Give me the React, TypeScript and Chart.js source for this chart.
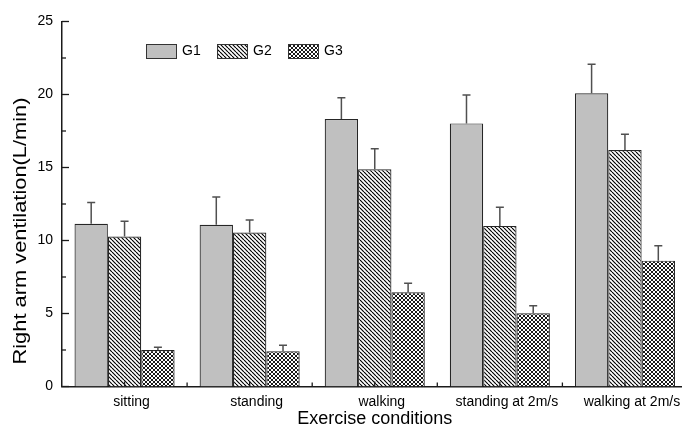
import React, { useEffect, useRef } from "react";
import { Chart, registerables } from "chart.js";

Chart.register(...registerables);

// Exercise conditions on the category axis
const conditions = ["sitting", "standing", "walking", "standing at 2m/s", "walking at 2m/s"];
const groupNames = ["G1", "G2", "G3"];

// Mean right arm ventilation (L/min) per group
const g1Values = [11.15, 11.08, 18.32, 18.02, 20.08];
const g2Values = [10.27, 10.55, 14.88, 11.0, 16.2];
const g3Values = [2.5, 2.41, 6.45, 5.01, 8.62];

// Upper error (SD) per group
const g1Errors = [1.45, 1.9, 1.45, 1.95, 2.0];
const g2Errors = [1.05, 0.85, 1.4, 1.28, 1.07];
const g3Errors = [0.18, 0.41, 0.62, 0.52, 1.02];

const yTicks = [0, 5, 10, 15, 20, 25];

const FONT = "'Liberation Sans', Arial, sans-serif";

function makeDiagonalPattern(): CanvasPattern | string {
  const c = document.createElement("canvas");
  c.width = 4;
  c.height = 4;
  const ctx = c.getContext("2d");
  if (!ctx) return "#888";
  ctx.fillStyle = "#ffffff";
  ctx.fillRect(0, 0, 4, 4);
  ctx.strokeStyle = "#000000";
  ctx.lineWidth = 1.15;
  for (const k of [-4, 0, 4]) {
    ctx.beginPath();
    ctx.moveTo(k, 0);
    ctx.lineTo(k + 4, 4);
    ctx.stroke();
  }
  return ctx.createPattern(c, "repeat") as CanvasPattern;
}

function makeCrossPattern(): CanvasPattern | string {
  const c = document.createElement("canvas");
  c.width = 4;
  c.height = 4;
  const ctx = c.getContext("2d");
  if (!ctx) return "#444";
  ctx.fillStyle = "#ffffff";
  ctx.fillRect(0, 0, 4, 4);
  ctx.strokeStyle = "#000000";
  ctx.lineWidth = 0.9;
  for (const k of [-4, 0, 4]) {
    ctx.beginPath();
    ctx.moveTo(k, 0);
    ctx.lineTo(k + 4, 4);
    ctx.stroke();
    ctx.beginPath();
    ctx.moveTo(k + 4, 0);
    ctx.lineTo(k, 4);
    ctx.stroke();
  }
  return ctx.createPattern(c, "repeat") as CanvasPattern;
}

export default function App() {
  const canvasRef = useRef<HTMLCanvasElement | null>(null);

  useEffect(() => {
    const canvas = canvasRef.current;
    if (!canvas) return;

    const fills = ["#c0c0c0", makeDiagonalPattern(), makeCrossPattern()];
    const errors = [g1Errors, g2Errors, g3Errors];

    // Upward error bars with a short cap
    const errorBars = {
      id: "errorBars",
      afterDatasetsDraw(chart: any) {
        const ctx = chart.ctx;
        const y = chart.scales.y;
        ctx.save();
        ctx.strokeStyle = "#505050";
        ctx.lineWidth = 1.5;
        chart.data.datasets.forEach((ds: any, d: number) => {
          const meta = chart.getDatasetMeta(d);
          meta.data.forEach((bar: any, i: number) => {
            const v = ds.data[i];
            const top = y.getPixelForValue(v);
            const hi = y.getPixelForValue(v + errors[d][i]);
            ctx.beginPath();
            ctx.moveTo(bar.x, top);
            ctx.lineTo(bar.x, hi);
            ctx.moveTo(bar.x - 4, hi);
            ctx.lineTo(bar.x + 4, hi);
            ctx.stroke();
          });
        });
        ctx.restore();
      },
    };

    // Inward tick marks, axis titles and legend
    const decorations = {
      id: "decorations",
      afterDraw(chart: any) {
        const ctx = chart.ctx;
        const x = chart.scales.x;
        const y = chart.scales.y;
        const area = chart.chartArea;
        ctx.save();
        ctx.strokeStyle = "#1a1a1a";
        ctx.lineWidth = 1.3;
        for (let v = 0; v <= 25; v += 2.5) {
          const py = y.getPixelForValue(v);
          const len = v % 5 === 0 ? 7 : 4;
          ctx.beginPath();
          ctx.moveTo(area.left, py);
          ctx.lineTo(area.left + len, py);
          ctx.stroke();
        }
        for (let i = 0; i < conditions.length; i++) {
          const px = x.getPixelForValue(i);
          ctx.beginPath();
          ctx.moveTo(px, area.bottom);
          ctx.lineTo(px, area.bottom - 5);
          ctx.stroke();
          if (i < conditions.length - 1) {
            const mid = (px + x.getPixelForValue(i + 1)) / 2;
            ctx.beginPath();
            ctx.moveTo(mid, area.bottom);
            ctx.lineTo(mid, area.bottom - 4);
            ctx.stroke();
          }
        }

        ctx.fillStyle = "#000";
        ctx.textBaseline = "middle";
        ctx.textAlign = "center";
        ctx.font = `18px ${FONT}`;
        ctx.fillText("Exercise conditions", (area.left + area.right) / 2, 419);

        // y title, stretched along its length to span the axis label region
        const yTitle = "Right arm ventilation(L/min)";
        ctx.save();
        ctx.translate(21, 231);
        ctx.rotate(-Math.PI / 2);
        ctx.font = `18px ${FONT}`;
        const w = ctx.measureText(yTitle).width;
        ctx.scale(267 / w, 1);
        ctx.fillText(yTitle, 0, 0);
        ctx.restore();

        // legend
        ctx.font = `14px ${FONT}`;
        ctx.textAlign = "left";
        const startX = 146;
        const step = 71;
        chart.data.datasets.forEach((ds: any, d: number) => {
          const bx = startX + d * step;
          ctx.fillStyle = ds.backgroundColor;
          ctx.fillRect(bx, 44, 30, 14);
          ctx.strokeStyle = "#333";
          ctx.lineWidth = 1;
          ctx.strokeRect(bx + 0.5, 44.5, 30, 14);
          ctx.fillStyle = "#000";
          ctx.fillText(ds.label, bx + 36, 51.5);
        });
        ctx.restore();
      },
    };

    const seriesValues = [g1Values, g2Values, g3Values];

    const chart = new Chart(canvas, {
      type: "bar",
      data: {
        labels: conditions,
        datasets: groupNames.map((name, d) => ({
          label: name,
          data: seriesValues[d],
          backgroundColor: fills[d] as any,
          borderColor: "#262626",
          borderWidth: 1.2,
          categoryPercentage: 0.8,
          barPercentage: 1.0,
        })),
      },
      options: {
        animation: false,
        responsive: false,
        devicePixelRatio: 1,
        layout: { padding: { left: 0, top: 21.5, right: 22.5, bottom: 0 } },
        plugins: {
          legend: { display: false },
          tooltip: { enabled: false },
        },
        scales: {
          x: {
            grid: { display: false, drawTicks: false },
            border: { display: true, color: "#1a1a1a", width: 1.5 },
            ticks: {
              color: "#000",
              font: { family: FONT, size: 14 },
              padding: 7,
              labelOffset: 7,
              maxRotation: 0,
              autoSkip: false,
            },
            afterFit(scale: any) {
              scale.height = 41.5;
            },
          },
          y: {
            min: 0,
            max: 25,
            afterBuildTicks(scale: any) {
              scale.ticks = yTicks.map((v) => ({ value: v }));
            },
            grid: { display: false, drawTicks: false },
            border: { display: true, color: "#1a1a1a", width: 1.5 },
            ticks: {
              color: "#000",
              font: { family: FONT, size: 14 },
              padding: 9,
            },
            afterFit(scale: any) {
              scale.width = 62;
            },
          },
        },
      },
      plugins: [errorBars, decorations],
    });

    return () => chart.destroy();
  }, []);

  return (
    <div
      style={{
        position: "fixed",
        left: 0,
        top: 0,
        width: 682,
        height: 428,
        overflow: "hidden",
        background: "#fff",
      }}
    >
      <canvas ref={canvasRef} width={710} height={428} style={{ display: "block" }} />
    </div>
  );
}
